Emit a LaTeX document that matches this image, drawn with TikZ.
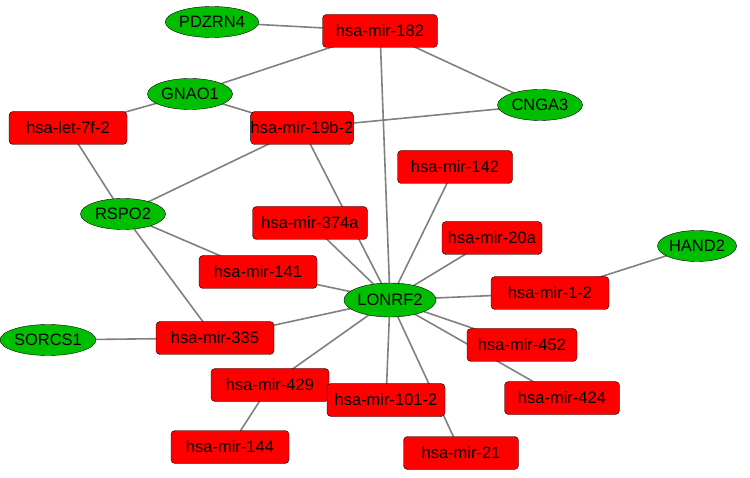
\documentclass[tikz,border=0pt]{standalone}
\usepackage{fontspec}
\setmainfont{Liberation Sans}
\usetikzlibrary{shapes.geometric,backgrounds}
\begin{document}
\begin{tikzpicture}[x=1pt,y=-1pt,
  mirna/.style={draw,fill=red,rectangle,rounded corners=4pt,minimum width=112pt,minimum height=33pt,font=\fontsize{16.5}{16.5}\selectfont,inner sep=0pt},
  gene/.style={draw,fill=green!75!black,ellipse,minimum width=85pt,minimum height=31pt,font=\fontsize{16.5}{16.5}\selectfont,inner sep=0pt},
  link/.style={draw=gray,line width=1.6pt}]
\useasboundingbox (0,0) rectangle (750,478);

\node[gene] (pdzrn4) at (212,22) {PDZRN4};
\node[mirna,minimum width=115pt] (m182) at (380,31) {hsa-mir-182};
\node[gene] (gnao1) at (190,94) {GNAO1};
\node[gene] (cnga3) at (540,105) {CNGA3};
\node[mirna,minimum width=118pt] (let7f2) at (68,128) {hsa-let-7f-2};
\node[mirna,minimum width=95pt] (m19b2) at (302,128) {hsa-mir-19b-2};
\node[mirna,minimum width=115pt] (m142) at (455,167) {hsa-mir-142};
\node[gene] (rspo2) at (123,214) {RSPO2};
\node[mirna,minimum width=115pt] (m374a) at (310,223) {hsa-mir-374a};
\node[mirna,minimum width=100pt] (m20a) at (492,238) {hsa-mir-20a};
\node[gene,minimum width=78pt] (hand2) at (697,246) {HAND2};
\node[mirna,minimum width=118pt] (m141) at (258,272) {hsa-mir-141};
\node[mirna,minimum width=118pt] (m12) at (550,293) {hsa-mir-1-2};
\node[gene,minimum width=88pt,minimum height=34pt] (lonrf2) at (390,300) {LONRF2};
\node[gene,minimum width=85pt] (sorcs1) at (48,340) {SORCS1};
\node[mirna,minimum width=118pt] (m335) at (215,338) {hsa-mir-335};
\node[mirna,minimum width=110pt] (m452) at (522,345) {hsa-mir-452};
\node[mirna,minimum width=118pt] (m429) at (270,385) {hsa-mir-429};
\node[mirna,minimum width=118pt] (m1012) at (386,400) {hsa-mir-101-2};
\node[mirna,minimum width=115pt] (m424) at (562,398) {hsa-mir-424};
\node[mirna,minimum width=118pt] (m144) at (230,447) {hsa-mir-144};
\node[mirna,minimum width=115pt] (m21) at (461,453) {hsa-mir-21};

\begin{scope}[on background layer]
\foreach \a/\b in {pdzrn4/m182,m182/gnao1,m182/cnga3,m182/lonrf2,gnao1/let7f2,
  gnao1/m19b2,m19b2/cnga3,let7f2/rspo2,m19b2/rspo2,m19b2/lonrf2,rspo2/m141,
  rspo2/m335,m142/lonrf2,m374a/lonrf2,m20a/lonrf2,hand2/m12,m12/lonrf2,
  m141/lonrf2,sorcs1/m335,m335/lonrf2,lonrf2/m452,lonrf2/m424,lonrf2/m429,
  m429/m144,lonrf2/m1012,lonrf2/m21}
  \draw[link] (\a.center) -- (\b.center);
\end{scope}
\end{tikzpicture}
\end{document}
